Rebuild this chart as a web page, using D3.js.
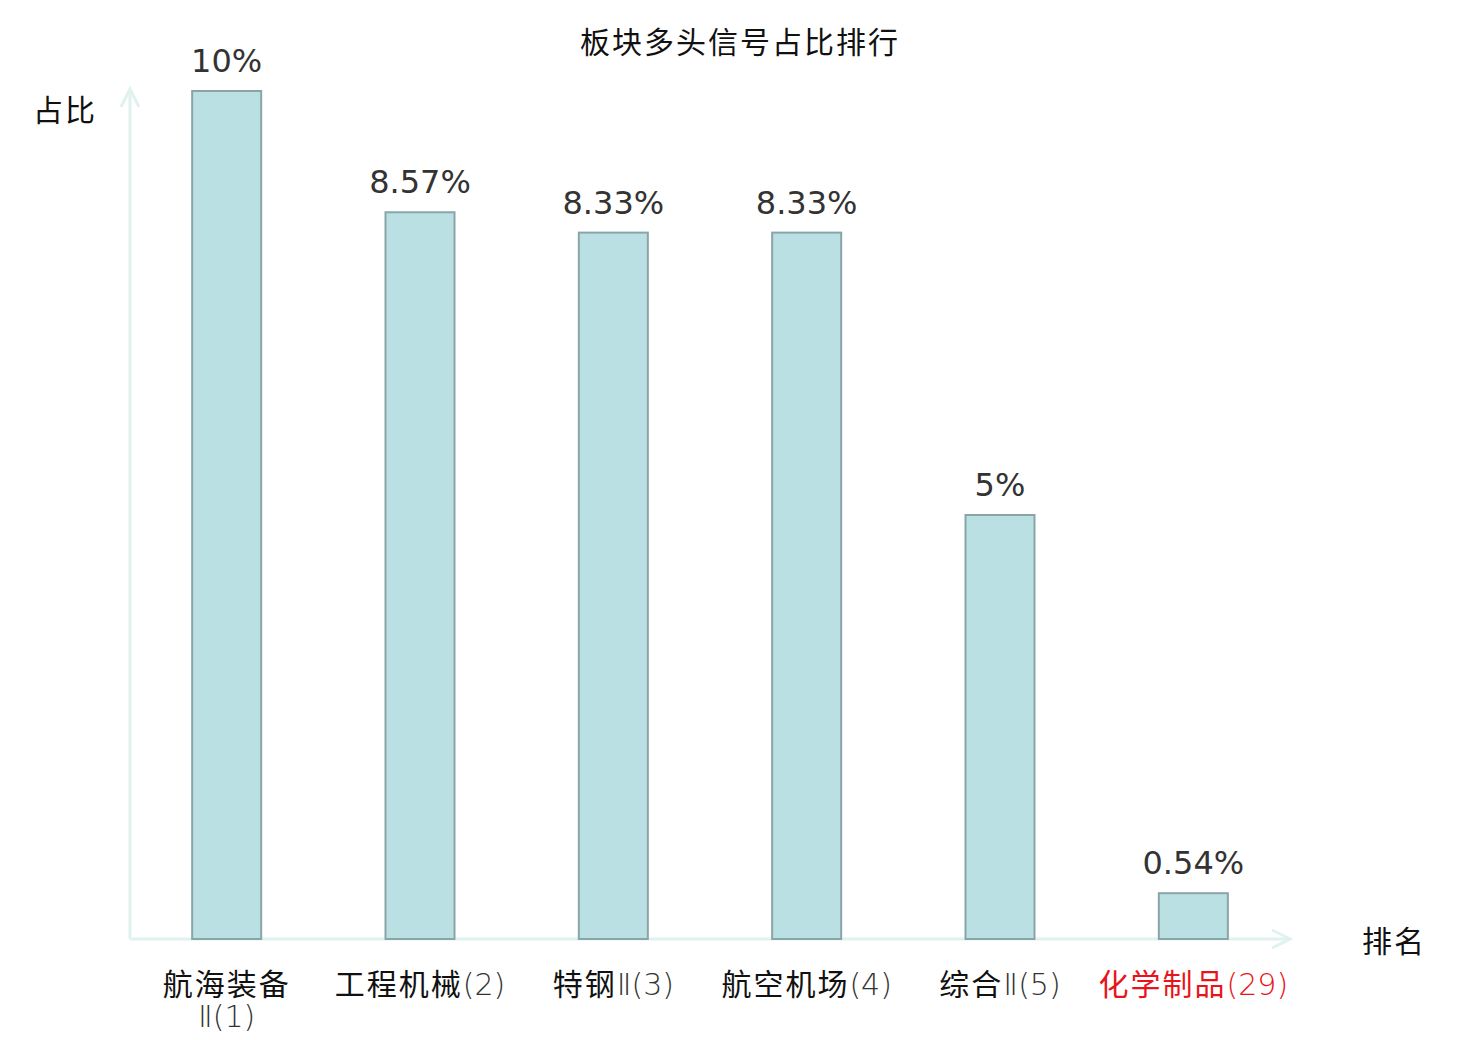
<!DOCTYPE html>
<html>
<head>
<meta charset="utf-8">
<script src="https://cdn.jsdelivr.net/npm/d3@7"></script>
<style>
  html, body { margin: 0; padding: 0; background: #fff; }
  svg { display: block; font-family: "DejaVu Sans", "Noto Sans CJK SC", sans-serif; }
</style>
</head>
<body>
<div id="chart"></div>
<script>
const categories = ["航海装备Ⅱ(1)", "工程机械(2)", "特钢Ⅱ(3)", "航空机场(4)", "综合Ⅱ(5)", "化学制品(29)"];
const labelLines = [["航海装备", "Ⅱ(1)"], ["工程机械(2)"], ["特钢Ⅱ(3)"], ["航空机场(4)"], ["综合Ⅱ(5)"], ["化学制品(29)"]];
const values = [10, 8.57, 8.33, 8.33, 5, 0.54];
const valueLabels = ["10%", "8.57%", "8.33%", "8.33%", "5%", "0.54%"];
const highlight = "化学制品(29)";

const W = 1480, H = 1040;
const m = { l: 130, r: 190, t: 91, b: 101 };
const x0 = m.l, x1 = W - m.r, y0 = H - m.b;
const cjkFont = '"Noto Sans CJK SC", sans-serif';

const x = d3.scaleBand().domain(categories).range([x0, x1]).paddingInner(0.643).paddingOuter(0.3215);
const y = d3.scaleLinear().domain([0, 10]).range([y0, m.t]);

const svg = d3.select("#chart").append("svg").attr("width", W).attr("height", H);

// title
svg.append("text").attr("x", 740).attr("y", 53).attr("text-anchor", "middle")
  .attr("font-size", 30).attr("font-family", cjkFont).attr("letter-spacing", 2)
  .attr("fill", "#111").text("板块多头信号占比排行");

// axes with arrows
const axisCol = "#dff2f0";
svg.append("line").attr("x1", x0).attr("x2", x0).attr("y1", y0).attr("y2", 89)
  .attr("stroke", axisCol).attr("stroke-width", 3);
svg.append("path").attr("d", `M${x0 - 9},${107} L${x0},${89} L${x0 + 9},${107}`)
  .attr("fill", "none").attr("stroke", axisCol).attr("stroke-width", 3);
svg.append("line").attr("x1", x0).attr("x2", 1290).attr("y1", y0).attr("y2", y0)
  .attr("stroke", axisCol).attr("stroke-width", 3);
svg.append("path").attr("d", `M${1272},${y0 - 9} L${1290},${y0} L${1272},${y0 + 9}`)
  .attr("fill", "none").attr("stroke", axisCol).attr("stroke-width", 3);

svg.append("text").attr("x", 33).attr("y", 121).attr("font-size", 30).attr("font-family", cjkFont)
  .attr("letter-spacing", 2).attr("fill", "#111").text("占比");
svg.append("text").attr("x", 1362).attr("y", 952).attr("font-size", 30).attr("font-family", cjkFont)
  .attr("letter-spacing", 2).attr("fill", "#111").text("排名");

// bars
svg.selectAll("rect.bar").data(values).join("rect").attr("class", "bar")
  .attr("x", (d, i) => x(categories[i]))
  .attr("y", (d) => y(d))
  .attr("width", x.bandwidth())
  .attr("height", (d) => y(0) - y(d))
  .attr("fill", "#bbe0e3").attr("stroke", "#8aa5a8").attr("stroke-width", 2);

// value labels
svg.selectAll("text.val").data(values).join("text").attr("class", "val")
  .attr("x", (d, i) => x(categories[i]) + x.bandwidth() / 2)
  .attr("y", (d) => y(d) - 19)
  .attr("text-anchor", "middle").attr("font-size", 32).attr("fill", "#333")
  .text((d, i) => valueLabels[i]);

// category labels: CJK runs normal, latin runs in thin DejaVu; wrapped lines stay in one <text>
const runs = (s) => s.match(/[\u4e00-\u9fff]+|[^\u4e00-\u9fff]+/g);
const isCjk = (s) => /[\u4e00-\u9fff]/.test(s);
categories.forEach((c, i) => {
  const cx = x(c) + x.bandwidth() / 2;
  const col = c === highlight ? "#e8141b" : "#111";
  const t = svg.append("text").attr("class", "cat")
    .attr("x", cx).attr("y", 995)
    .attr("text-anchor", "middle").attr("font-size", 30).attr("fill", col);
  labelLines[i].forEach((line, j) => {
    const ln = t.append("tspan").attr("x", cx).attr("dy", j ? 32 : 0);
    runs(line).forEach((r) => {
      const ts = ln.append("tspan").text(r);
      if (isCjk(r)) ts.attr("font-family", cjkFont).attr("letter-spacing", 2);
      else ts.attr("font-family", '"DejaVu Sans", sans-serif').attr("font-weight", 200)
        .attr("fill", c === highlight ? "#e8141b" : "#333");
    });
  });
});
</script>
</body>
</html>
